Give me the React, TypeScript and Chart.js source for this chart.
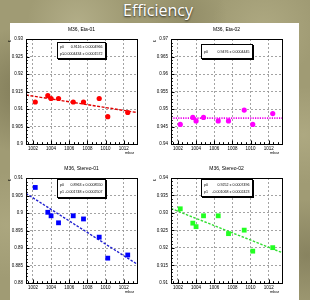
import React, { useEffect, useRef } from "react";
import { Chart, registerables } from "chart.js";

Chart.register(...registerables);

// ---------- data ----------
const pressure = [1002.26, 1003.64, 1004.0, 1004.82, 1006.44, 1007.57, 1009.3, 1010.24, 1012.44];
const pressureRange = [1001.24, 1013.46];
const pressureTickLabels = ["1002", "1004", "1006", "1008", "1010", "1012"];

const eta01 = [0.912, 0.9138, 0.913, 0.913, 0.912, 0.912, 0.913, 0.9078, 0.909];
const eta01Fit = [0.914, 0.909];
const eta01TickLabels = ["0.9", "0.905", "0.91", "0.915", "0.92", "0.925", "0.93"];
const eta01Params = [["p0", "0.9116 ± 0.0004966"], ["p1", "-0.0004434 ± 0.0001572"]];

const eta02 = [0.9456, 0.9476, 0.9466, 0.9476, 0.9466, 0.9466, 0.9497, 0.9456, 0.9487];
const eta02Fit = [0.9474, 0.9474];
const eta02TickLabels = ["0.94", "0.945", "0.95", "0.955", "0.96", "0.965", "0.97"];
const eta02Params = [["p0", "0.9476 ± 0.0004445"]];

const stereo01 = [0.9073, 0.9002, 0.8992, 0.8972, 0.8992, 0.8983, 0.8931, 0.8871, 0.888];
const stereo01Fit = [0.9056, 0.8854];
const stereo01TickLabels = ["0.88", "0.885", "0.89", "0.895", "0.9", "0.905", "0.91"];
const stereo01Params = [["p0", "0.8963 ± 0.0008550"], ["p1", "-0.001748 ± 0.0002507"]];

const stereo02 = [0.9312, 0.9271, 0.9261, 0.9292, 0.9292, 0.9241, 0.9251, 0.9191, 0.9201];
const stereo02Fit = [0.9313, 0.9187];
const stereo02TickLabels = ["0.91", "0.915", "0.92", "0.925", "0.93", "0.935", "0.94"];
const stereo02Params = [["p0", "0.9252 ± 0.0007496"], ["p1", "-0.001068 ± 0.0002423"]];

const titles = ["M36, Eta-01", "M36, Eta-02", "M36, Stereo-01", "M36, Stereo-02"];
const xTitle = "mbar";
const yTitle = "ε";

// ---------- styles ----------
const FONT = "'Liberation Sans', Arial, Helvetica, sans-serif";
const CW = 140;
const CH = 134;
const AXW = 22;
const XH = 13;

const plots = [
  { title: titles[0], values: eta01, fit: eta01Fit, tickLabels: eta01TickLabels, params: eta01Params,
    color: "#ff0000", lineColor: "#e00000", style: "circle", radius: 2.6, dash: [3, 1.5], lw: 1.4,
    box: [31, 3, 48, 16], left: 4, top: 23 },
  { title: titles[1], values: eta02, fit: eta02Fit, tickLabels: eta02TickLabels, params: eta02Params,
    color: "#ff00ff", lineColor: "#ee00ee", style: "circle", radius: 2.6, dash: [1.2, 1.2], lw: 1.6,
    box: [30, 5, 51, 14], left: 149, top: 23 },
  { title: titles[2], values: stereo01, fit: stereo01Fit, tickLabels: stereo01TickLabels, params: stereo01Params,
    color: "#0000ff", lineColor: "#2020d0", style: "rect", radius: 3.4, dash: [2.5, 1.5], lw: 1.4,
    box: [31, 1, 48, 18], left: 4, top: 162 },
  { title: titles[3], values: stereo02, fit: stereo02Fit, tickLabels: stereo02TickLabels, params: stereo02Params,
    color: "#22ff22", lineColor: "#33dd33", style: "rect", radius: 3.4, dash: [2.5, 1.5], lw: 1.4,
    box: [30, 1, 51, 17], left: 149, top: 162 },
];

const rootPlugin = {
  id: "rootFrame",
  afterDraw(chart: any, _args: any, opts: any) {
    const { ctx, chartArea: a, scales } = chart;
    const xs = scales.x;
    const ys = scales.y;
    const yVals: number[] = opts.yTicks;
    const xVals: number[] = opts.xTicks;
    ctx.save();
    ctx.strokeStyle = "#000";
    ctx.lineWidth = 1;
    ctx.beginPath();
    const yStep = (yVals[1] - yVals[0]) / 5;
    for (let k = 0; k <= (yVals.length - 1) * 5; k++) {
      const v = yVals[0] + k * yStep;
      const py = Math.round(ys.getPixelForValue(v)) + 0.5;
      const len = k % 5 === 0 ? 3.5 : 1.8;
      ctx.moveTo(a.left, py);
      ctx.lineTo(a.left + len, py);
    }
    const xStep = 0.5;
    for (let v = Math.ceil(xs.min / xStep) * xStep; v <= xs.max; v += xStep) {
      const px = Math.round(xs.getPixelForValue(v)) + 0.5;
      const major = xVals.some((t) => Math.abs(t - v) < 1e-6);
      const len = major ? 3.5 : 1.8;
      ctx.moveTo(px, a.bottom);
      ctx.lineTo(px, a.bottom - len);
    }
    ctx.stroke();
    ctx.strokeRect(Math.round(a.left) + 0.5, Math.round(a.top) + 0.5, Math.round(a.right - a.left), Math.round(a.bottom - a.top));

    const [bx, by, bw, bh] = opts.box;
    const x0 = Math.round(a.left + bx) + 0.5;
    const y0 = Math.round(a.top + by) + 0.5;
    ctx.fillStyle = "#000";
    ctx.fillRect(x0 + 0.5, y0 + 0.5, bw + 1, bh + 1);
    ctx.fillStyle = "#fff";
    ctx.fillRect(x0, y0, bw, bh);
    ctx.strokeRect(x0, y0, bw, bh);
    ctx.fillStyle = "#000";
    ctx.font = `3.6px ${FONT}`;
    ctx.textBaseline = "middle";
    const rows: string[][] = opts.params;
    rows.forEach((r, i) => {
      const cy = rows.length === 1 ? y0 + bh / 2 : y0 + bh * (i === 0 ? 0.3 : 0.72);
      ctx.textAlign = "left";
      ctx.fillText(r[0], x0 + 2.5, cy);
      ctx.textAlign = "right";
      ctx.fillText(r[1], x0 + bw - 3, cy);
    });

    ctx.font = `4px ${FONT}`;
    ctx.textAlign = "right";
    ctx.textBaseline = "middle";
    ctx.fillText(opts.xTitle, a.right - 3, a.bottom + 9);
    ctx.save();
    ctx.translate(a.left - 16, a.top + 1);
    ctx.rotate(-Math.PI / 2);
    ctx.font = `5px ${FONT}`;
    ctx.textAlign = "right";
    ctx.fillText(opts.yTitle, 0, 0);
    ctx.restore();
    ctx.restore();
  },
};

function Plot({ p }: { p: any }) {
  const ref = useRef<HTMLCanvasElement | null>(null);
  useEffect(() => {
    if (!ref.current) return;
    const yTicks = p.tickLabels.map(Number);
    const xTicks = pressureTickLabels.map(Number);
    const chart = new Chart(ref.current, {
      type: "scatter",
      data: {
        datasets: [
          {
            data: pressure.map((x, i) => ({ x, y: p.values[i] })),
            pointStyle: p.style,
            pointRadius: p.radius,
            pointHoverRadius: p.radius,
            backgroundColor: p.color,
            borderColor: p.color,
            borderWidth: 0,
            showLine: false,
          },
          {
            data: [
              { x: pressureRange[0], y: p.fit[0] },
              { x: pressureRange[1], y: p.fit[1] },
            ],
            showLine: true,
            pointRadius: 0,
            borderColor: p.lineColor,
            borderWidth: p.lw,
            borderDash: p.dash,
            fill: false,
          },
        ],
      },
      options: {
        responsive: false,
        animation: false,
        devicePixelRatio: 1,
        layout: { padding: { left: 0, right: CW - AXW - 111, top: 0, bottom: 0 } },
        scales: {
          x: {
            type: "linear",
            min: pressureRange[0],
            max: pressureRange[1],
            afterBuildTicks: (s: any) => {
              s.ticks = xTicks.map((v: number) => ({ value: v }));
            },
            afterFit: (s: any) => {
              s.height = XH;
            },
            ticks: {
              autoSkip: false,
              maxRotation: 0,
              padding: 2,
              color: "#000",
              font: { size: 4.5, family: FONT },
              callback: (_v: any, i: number) => pressureTickLabels[i],
            },
            grid: { color: "#999999", lineWidth: 0.9, drawTicks: false },
            border: { display: false, dash: [2, 2] },
          },
          y: {
            type: "linear",
            min: yTicks[0],
            max: yTicks[yTicks.length - 1],
            afterBuildTicks: (s: any) => {
              s.ticks = yTicks.map((v: number) => ({ value: v }));
            },
            afterFit: (s: any) => {
              s.width = AXW;
            },
            ticks: {
              autoSkip: false,
              padding: 3,
              color: "#000",
              font: { size: 4.5, family: FONT },
              callback: (_v: any, i: number) => p.tickLabels[i],
            },
            grid: { color: "#999999", lineWidth: 0.9, drawTicks: false },
            border: { display: false, dash: [2, 2] },
          },
        },
        plugins: {
          legend: { display: false },
          tooltip: { enabled: false },
          title: {
            display: true,
            text: p.title,
            fullSize: false,
            color: "#000",
            font: { size: 5, family: FONT, weight: "normal" },
            padding: { top: 4, bottom: 6 },
          },
          rootFrame: {
            yTicks,
            xTicks,
            box: p.box,
            params: p.params,
            xTitle,
            yTitle,
          },
        } as any,
      },
      plugins: [rootPlugin],
    } as any);
    return () => chart.destroy();
  }, [p]);
  return (
    <canvas
      ref={ref}
      width={CW}
      height={CH}
      style={{ position: "absolute", left: p.left, top: p.top, width: CW, height: CH }}
    />
  );
}

export default function App() {
  return (
    <div
      style={{
        position: "fixed",
        left: 0,
        top: 0,
        width: 310,
        height: 300,
        overflow: "hidden",
        backgroundColor: "#a09b74",
        backgroundImage:
          "radial-gradient(circle at 8% 30%, rgba(90,85,55,0.45), transparent 18%)," +
          "radial-gradient(circle at 25% 8%, rgba(200,196,160,0.45), transparent 14%)," +
          "radial-gradient(circle at 60% 5%, rgba(120,115,80,0.35), transparent 12%)," +
          "radial-gradient(circle at 85% 10%, rgba(195,190,150,0.4), transparent 14%)," +
          "radial-gradient(circle at 98% 45%, rgba(190,185,145,0.45), transparent 14%)," +
          "radial-gradient(circle at 2% 75%, rgba(185,180,140,0.45), transparent 14%)," +
          "radial-gradient(circle at 99% 85%, rgba(100,95,65,0.4), transparent 14%)",
      }}
    >
      <div
        style={{
          position: "absolute",
          left: 100,
          top: 0,
          width: 116,
          textAlign: "center",
          color: "#ffffff",
          fontFamily: "'Open Sans', 'DejaVu Sans', sans-serif",
          fontSize: 16,
          lineHeight: "21px",
          textShadow: "0 1px 2px rgba(0,0,0,0.75)",
        }}
      >
        Efficiency
      </div>
      <div style={{ position: "absolute", left: 10, top: 23, width: 289, height: 277, background: "#ffffff" }} />
      {plots.map((p, i) => (
        <Plot key={i} p={p} />
      ))}
    </div>
  );
}
